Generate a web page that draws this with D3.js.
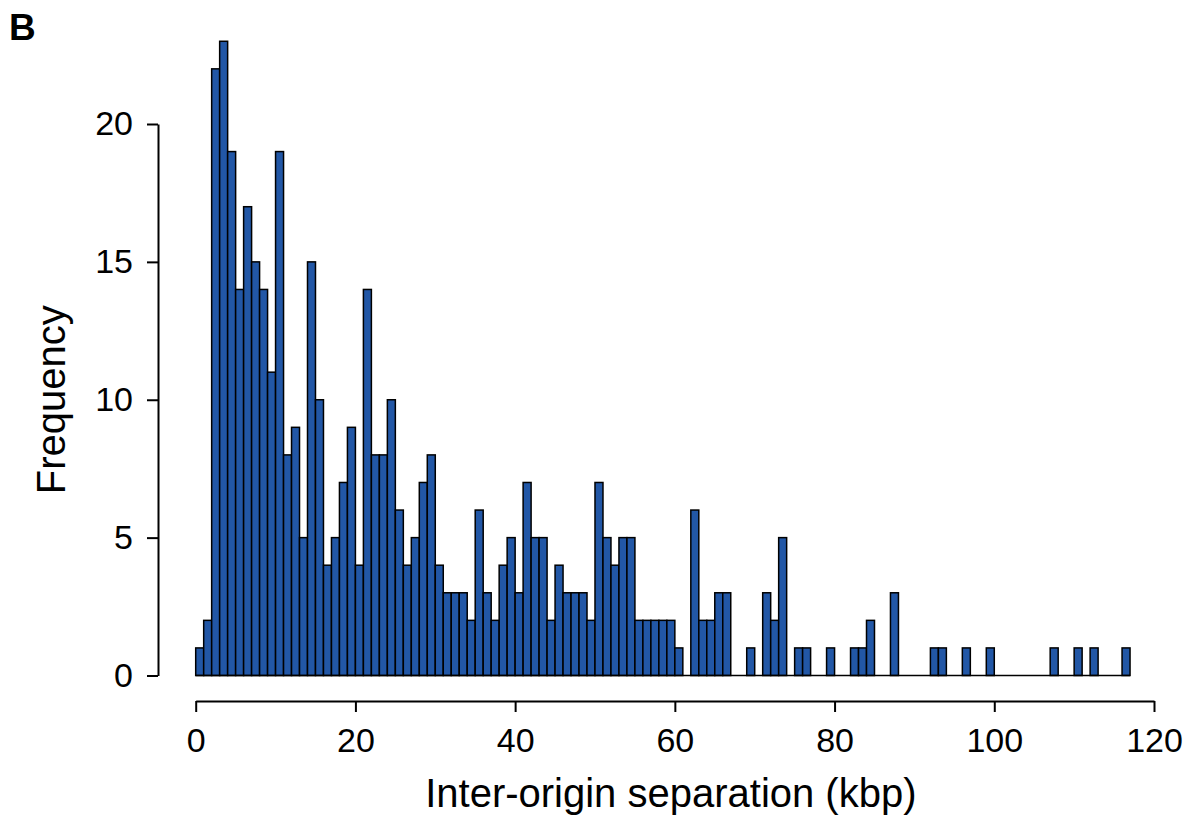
<!DOCTYPE html>
<html>
<head>
<meta charset="utf-8">
<script src="https://cdn.jsdelivr.net/npm/d3@7"></script>
<style>
  html, body { margin: 0; padding: 0; background: #fff; }
  svg { display: block; font-family: "Liberation Sans", Arial, sans-serif; }
</style>
</head>
<body>
<svg id="chart" width="1190" height="815"></svg>
<script>
// Frequency per 1-kbp bin, starting at bin [0,1)
const binStarts = d3.range(0, 117);
const frequencies = [
  1, 2, 22, 23, 19, 14, 17, 15, 14, 11,
  19, 8, 9, 5, 15, 10, 4, 5, 7, 9,
  4, 14, 8, 8, 10, 6, 4, 5, 7, 8,
  4, 3, 3, 3, 2, 6, 3, 2, 4, 5,
  3, 7, 5, 5, 2, 4, 3, 3, 3, 2,
  7, 5, 4, 5, 5, 2, 2, 2, 2, 2,
  1, 0, 6, 2, 2, 3, 3, 0, 0, 1,
  0, 3, 2, 5, 0, 1, 1, 0, 0, 1,
  0, 0, 1, 1, 2, 0, 0, 3, 0, 0,
  0, 0, 1, 1, 0, 0, 1, 0, 0, 1,
  0, 0, 0, 0, 0, 0, 0, 1, 0, 0,
  1, 0, 1, 0, 0, 0, 1
];
const xTicks = [0, 20, 40, 60, 80, 100, 120];
const yTicks = [0, 5, 10, 15, 20];
const xTitle = "Inter-origin separation (kbp)";
const yTitle = "Frequency";
const panelLabel = "B";

const svg = d3.select("#chart");

const x = d3.scaleLinear().domain([0, 120]).range([195.7, 1154]);
const y = d3.scaleLinear().domain([0, 20]).range([675.5, 124]);

// Bars
svg.append("g")
  .selectAll("rect")
  .data(binStarts.map((b, i) => ({ b, v: frequencies[i] })).filter(d => d.v > 0))
  .join("rect")
  .attr("x", d => x(d.b))
  .attr("width", d => x(d.b + 1) - x(d.b))
  .attr("y", d => y(d.v))
  .attr("height", d => y(0) - y(d.v))
  .attr("fill", "#2257a6")
  .attr("stroke", "#000")
  .attr("stroke-width", 1.5);

// Baseline formed by zero-height bins
svg.append("line")
  .attr("x1", x(binStarts[0]))
  .attr("x2", x(binStarts[binStarts.length - 1] + 1))
  .attr("y1", y(0)).attr("y2", y(0))
  .attr("stroke", "#000").attr("stroke-width", 1.5);

// X axis
const xAxisY = 701;
const gx = svg.append("g")
  .attr("transform", `translate(0,${xAxisY})`)
  .call(d3.axisBottom(x).tickValues(xTicks).tickSize(11).tickSizeOuter(0).tickPadding(16).tickFormat(d3.format("d")));
gx.select(".domain").attr("stroke", "#000").attr("stroke-width", 2);
gx.selectAll(".tick line").attr("stroke", "#000").attr("stroke-width", 2);
gx.selectAll(".tick text").attr("fill", "#000").style("font-size", "34px").attr("font-family", null);

// Y axis
const yAxisX = 158;
const gy = svg.append("g")
  .attr("transform", `translate(${yAxisX},0)`)
  .call(d3.axisLeft(y).tickValues(yTicks).tickSize(11).tickSizeOuter(0).tickPadding(14).tickFormat(d3.format("d")));
gy.select(".domain").attr("stroke", "#000").attr("stroke-width", 2);
gy.selectAll(".tick line").attr("stroke", "#000").attr("stroke-width", 2);
gy.selectAll(".tick text").attr("fill", "#000").style("font-size", "34px").attr("font-family", null);

// Titles
svg.append("text")
  .attr("x", (x(0) + x(120)) / 2 - 4)
  .attr("y", 807)
  .attr("text-anchor", "middle")
  .style("font-size", "40px")
  .text(xTitle);

svg.append("text")
  .attr("transform", `translate(65,${(y(0) + y(20)) / 2}) rotate(-90)`)
  .attr("text-anchor", "middle")
  .style("font-size", "40px")
  .text(yTitle);

svg.append("text")
  .attr("x", 9)
  .attr("y", 40)
  .style("font-size", "37px")
  .style("font-weight", "bold")
  .text(panelLabel);
</script>
</body>
</html>
